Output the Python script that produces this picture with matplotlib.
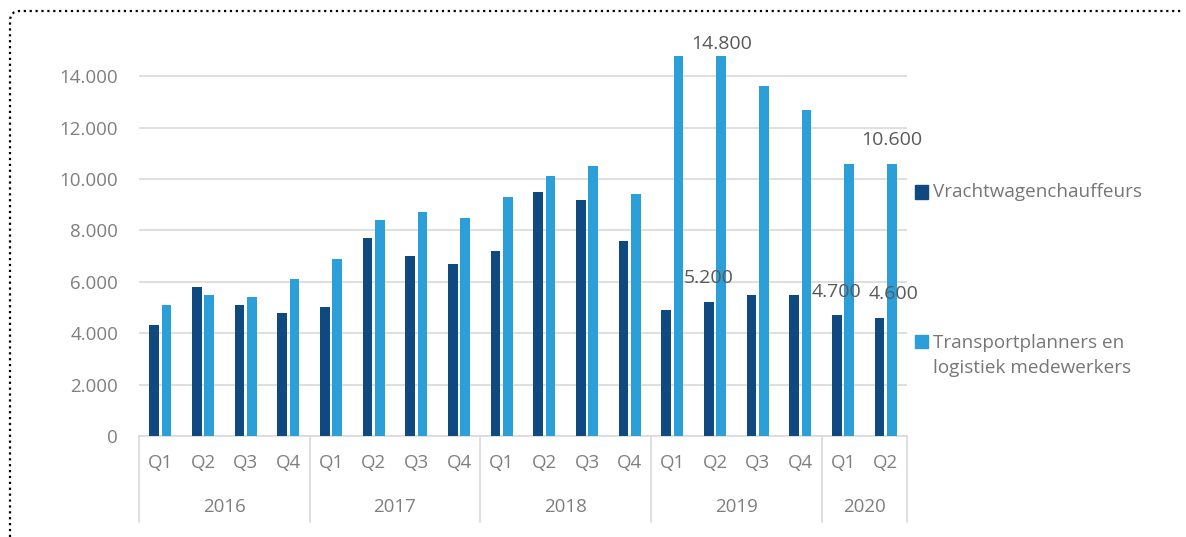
import numpy as np
import matplotlib.pyplot as plt
from matplotlib.patches import Rectangle
from matplotlib.path import Path
from matplotlib.patches import PathPatch
from matplotlib.transforms import blended_transform_factory

plt.rcParams['font.family'] = ['Open Sans', 'DejaVu Sans']

# data
years = ['2016', '2017', '2018', '2019', '2020']
quarters_per_year = [4, 4, 4, 4, 2]
quarters = ['Q1', 'Q2', 'Q3', 'Q4'] * 4 + ['Q1', 'Q2']
series_names = ['Vrachtwagenchauffeurs', 'Transportplanners en\nlogistiek medewerkers']
vracht = [4300, 5800, 5100, 4800, 5000, 7700, 7000, 6700, 7200, 9500, 9200, 7600,
          4900, 5200, 5500, 5500, 4700, 4600]
transport = [5100, 5500, 5400, 6100, 6900, 8400, 8700, 8500, 9300, 10100, 10500, 9400,
             14800, 14800, 13600, 12700, 10600, 10600]
y_ticks = [0, 2000, 4000, 6000, 8000, 10000, 12000, 14000]
# (series index, category index) for the value labels
labelled = [(1, 13), (1, 17), (0, 13), (0, 16), (0, 17)]

colors = ['#0E4A80', '#2C9FD9']
W, H = 1186, 537
fig = plt.figure(figsize=(W / 100, H / 100), dpi=100)
ax = fig.add_axes([139 / W, (537 - 436) / H, 768 / W, 401 / H])

n = len(quarters)
x = np.arange(n) + 0.5
bw = 0.22
off = 0.145
ax.bar(x - off, vracht, width=bw, color=colors[0], zorder=3)
ax.bar(x + off, transport, width=bw, color=colors[1], zorder=3)

ax.set_xlim(0, n)
ax.set_ylim(0, 15600)
ax.set_yticks(y_ticks)
ax.set_yticklabels([f'{v:,}'.replace(',', '.') for v in y_ticks])
ax.tick_params(axis='y', length=0, pad=15, labelsize=13.5, labelcolor='#7f7f7f')
ax.set_xticks([])
for s in ['top', 'right', 'left']:
    ax.spines[s].set_visible(False)
ax.spines['bottom'].set_color('#d9d9d9')
ax.spines['bottom'].set_linewidth(1.2)
ax.grid(axis='y', color='#d9d9d9', linewidth=1.2, zorder=0)

# two-level category axis
tr = blended_transform_factory(ax.transData, ax.transAxes)
for xi, q in zip(x, quarters):
    ax.text(xi, -0.067, q, transform=tr, ha='center', va='center',
            fontsize=13.5, color='#7f7f7f')
edges = np.concatenate([[0], np.cumsum(quarters_per_year)])
for i, yr in enumerate(years):
    ax.text((edges[i] + edges[i + 1]) / 2, -0.177, yr, transform=tr,
            ha='center', va='center', fontsize=13.5, color='#7f7f7f')
for e in edges:
    ax.plot([e, e], [0, -0.2145], transform=tr, color='#d9d9d9', lw=1.2, clip_on=False)

# value labels
series = [vracht, transport]
label_offsets = {(1, 13): (0, 12), (1, 17): (0, 24), (0, 13): (0, 24),
                 (0, 16): (0, 23), (0, 17): (14, 24)}
for s, i in labelled:
    v = series[s][i]
    xi = x[i] + (off if s == 1 else -off)
    dx, dy = label_offsets[(s, i)]
    ax.annotate(f'{v:,}'.replace(',', '.'), (xi, v), xytext=(dx * 0.72, dy * 0.72),
                textcoords='offset points', ha='center', va='center',
                fontsize=14, color='#595959', zorder=5)

# legend
leg_y = [192, 341]
for name, c, yy in zip(series_names, colors, leg_y):
    fig.add_artist(Rectangle((915 / W, (H - yy - 6.5) / H), 13 / W, 13 / H,
                             transform=fig.transFigure, color=c))
    multi = '\n' in name
    fig.text(933 / W, (H - yy + (7 if multi else 0)) / H, name, ha='left',
             va='top' if multi else 'center',
             fontsize=13.6, color='#767676', linespacing=1.5,
             transform=fig.transFigure)

# dotted rounded border (pixel coords, y from top)
r = 10
verts = [(10, H), (10, 11 + r), (10, 11), (10 + r, 11), (1183, 11)]
codes = [Path.MOVETO, Path.LINETO, Path.CURVE3, Path.CURVE3, Path.LINETO]
verts = [(vx / W, (H - vy) / H) for vx, vy in verts]
fig.add_artist(PathPatch(Path(verts, codes), transform=fig.transFigure, fill=False,
                         edgecolor='black', linestyle=':', linewidth=1.6))

fig.savefig('out.png', dpi=100)
